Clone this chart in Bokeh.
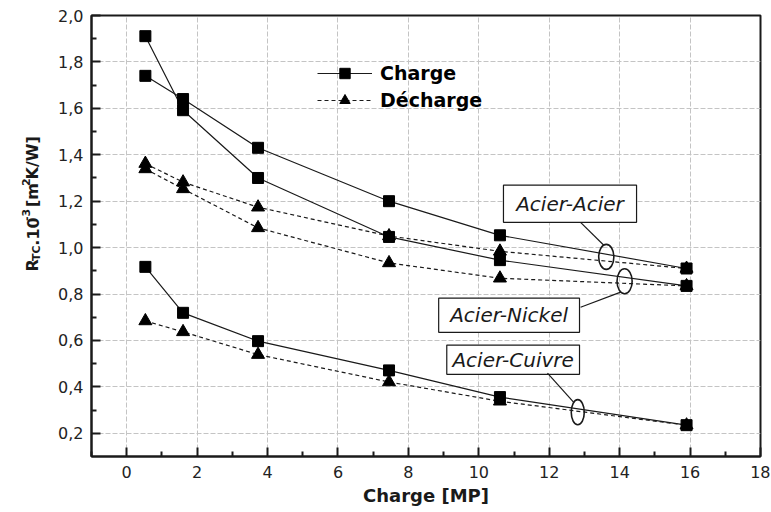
import math
from bokeh.plotting import figure
from bokeh.layouts import row
from bokeh.models import (Range1d, FixedTicker, CustomJSTickFormatter, Legend, LegendItem)
from bokeh.core.properties import value
from bokeh.embed import file_html
from bokeh.resources import INLINE

# ---- data ----
charge_mp = [0.53, 1.6, 3.73, 7.45, 10.6, 15.9]
acier_acier_charge = [1.74, 1.64, 1.43, 1.20, 1.053, 0.91]
acier_acier_decharge = [1.362, 1.282, 1.174, 1.05, 0.984, 0.91]
acier_nickel_charge = [1.911, 1.592, 1.30, 1.046, 0.946, 0.835]
acier_nickel_decharge = [1.339, 1.253, 1.085, 0.934, 0.868, 0.835]
acier_cuivre_charge = [0.917, 0.719, 0.597, 0.471, 0.356, 0.235]
acier_cuivre_decharge = [0.684, 0.637, 0.539, 0.421, 0.338, 0.235]

x_ticks = [0, 2, 4, 6, 8, 10, 12, 14, 16, 18]
x_minor = [-1, 1, 3, 5, 7, 9, 11, 13, 15, 17]
y_ticks = [0.2, 0.4, 0.6, 0.8, 1.0, 1.2, 1.4, 1.6, 1.8, 2.0]
y_minor = [0.3, 0.5, 0.7, 0.9, 1.1, 1.3, 1.5, 1.7, 1.9]

legend_labels = ["Charge", "Décharge"]
# y-axis title pieces: (text, font px, baseline shift px, gap before px)
ylabel_pieces = [("R", 16, 0, 0), ("TC", 11, 4, 0), (".10", 16, 0, 2), ("-3", 11, -7, 0),
                 ("[m", 16, 0, 4), ("2", 11, -7, 0), ("K/W]", 16, 0, 0)]
# annotation boxes: (text, x_left, x_right, y_bottom, y_top)
boxes = [
    ("Acier-Acier", 10.70, 14.48, 1.109, 1.269),
    ("Acier-Nickel", 8.86, 12.86, 0.635, 0.782),
    ("Acier-Cuivre", 9.09, 12.86, 0.454, 0.580),
]
# leader lines ((x0, y0), (x1, y1)) and ellipses (x, y, w, h)
leaders = [((12.89, 1.109), (13.55, 1.010)),
           ((14.03, 0.808), (12.89, 0.743)),
           ((11.95, 0.459), (12.69, 0.334))]
ellipses = [(13.62, 0.960, 0.43, 0.108),
            (14.14, 0.855, 0.43, 0.108),
            (12.81, 0.291, 0.37, 0.108)]

FONT = "DejaVu Sans"
INK = "#1a1a1a"
X0, X1, Y0, Y1 = -1, 18, 0.1, 2.0
FW, FH = 669, 441
H = 508
LW = 54  # width of the side panel that carries the y title

# ---- side panel carrying the composed y-axis title ----
side = figure(width=LW, height=H, output_backend="svg", toolbar_location=None,
              x_range=Range1d(0, LW), y_range=Range1d(0, H),
              x_axis_location=None, y_axis_location=None, min_border=0)
side.grid.visible = False
side.outline_line_color = None
side.background_fill_color = "white"
side.border_fill_color = "white"
widths = {"R": .770, "T": .682, "C": .734, ".": .380, "1": .696, "0": .696, "-": .415,
          "3": .696, "[": .457, "m": 1.042, "2": .696, "K": .775, "/": .365, "W": 1.103, "]": .457}
ypos = H - 295
for txt, size, dx, gap in ylabel_pieces:
    ypos += gap
    side.text(x=[32 + dx], y=[ypos], text=[txt], angle=math.pi / 2,
              text_font=value(FONT), text_font_style="bold", text_font_size=f"{size}px",
              text_align="left", text_baseline="alphabetic", text_color=INK)
    ypos += sum(widths[c] for c in txt) * size

# ---- main plot ----
p = figure(width=770 - LW, height=H, output_backend="svg", toolbar_location=None,
           x_range=Range1d(X0, X1), y_range=Range1d(Y0, Y1),
           frame_width=FW, frame_height=FH,
           min_border_left=91 - LW, min_border_right=10, min_border_top=15, min_border_bottom=52)
p.background_fill_color = "white"
p.border_fill_color = "white"
p.outline_line_color = INK
p.outline_line_width = 2

for ax in (p.xaxis[0], p.yaxis[0]):
    ax.axis_line_width = 2
    ax.axis_line_color = INK
    ax.major_tick_in = 9
    ax.major_tick_out = 0
    ax.minor_tick_in = 5
    ax.minor_tick_out = 0
    ax.major_tick_line_width = 2
    ax.minor_tick_line_width = 2
    ax.major_tick_line_color = INK
    ax.minor_tick_line_color = INK
    ax.major_label_text_font = FONT
    ax.major_label_text_font_size = "16px"
    ax.major_label_text_color = "#222222"

p.xaxis.ticker = FixedTicker(ticks=x_ticks, minor_ticks=x_minor)
p.yaxis.ticker = FixedTicker(ticks=y_ticks, minor_ticks=y_minor)
p.yaxis.formatter = CustomJSTickFormatter(code="return tick.toFixed(1).replace('.', ',');")
p.xaxis.major_label_standoff = 9
p.yaxis.major_label_standoff = 8
p.xaxis.axis_label = "Charge [MP]"
p.xaxis.axis_label_text_font = FONT
p.xaxis.axis_label_text_font_style = "bold"
p.xaxis.axis_label_text_font_size = "18px"
p.xaxis.axis_label_text_color = INK
p.xaxis.axis_label_standoff = 4

p.xgrid.ticker = FixedTicker(ticks=x_ticks)
p.ygrid.ticker = FixedTicker(ticks=y_ticks)
for g in (p.xgrid[0], p.ygrid[0]):
    g.grid_line_color = "#c4c4c4"
    g.grid_line_dash = "5 2"
    g.grid_line_width = 1

series = [
    (acier_acier_charge, "solid", "square"),
    (acier_nickel_charge, "solid", "square"),
    (acier_cuivre_charge, "solid", "square"),
    (acier_acier_decharge, "4 3", "triangle"),
    (acier_nickel_decharge, "4 3", "triangle"),
    (acier_cuivre_decharge, "4 3", "triangle"),
]
rend = []
for ys, dash, marker in series:
    l = p.line(charge_mp, ys, line_color=INK, line_width=1.2, line_dash=dash)
    rend.append(l)
markers = []
for ys, dash, marker in series:
    s = p.scatter(charge_mp, ys, marker=marker, size=11 if marker == "square" else 13,
                  fill_color="black", line_color="black")
    markers.append(s)

# annotation boxes
for (txt, x0, x1, y0, y1) in boxes:
    p.quad(left=[x0], right=[x1], bottom=[y0], top=[y1], fill_color="white",
           line_color=INK, line_width=1.2)
    p.text(x=[(x0 + x1) / 2], y=[(y0 + y1) / 2], text=[txt], text_font=value(FONT),
           text_font_style="italic", text_font_size="20px", text_align="center",
           text_baseline="middle", text_color=INK)
for (a, b) in leaders:
    p.line([a[0], b[0]], [a[1], b[1]], line_color=INK, line_width=1.2)
for (ex, ey, ew, eh) in ellipses:
    p.ellipse(x=[ex], y=[ey], width=[ew], height=[eh], fill_color=None,
              line_color=INK, line_width=1.6)

legend = Legend(items=[LegendItem(label=legend_labels[0], renderers=[rend[0], markers[0]]),
                       LegendItem(label=legend_labels[1], renderers=[rend[3], markers[3]])],
                location=(226, 343), orientation="vertical")
legend.border_line_color = None
legend.background_fill_alpha = 0
legend.padding = 0
legend.margin = 0
legend.spacing = 1
legend.glyph_width = 55
legend.glyph_height = 26
legend.label_height = 26
legend.label_standoff = 8
legend.label_text_font = FONT
legend.label_text_font_style = "bold"
legend.label_text_font_size = "19px"
legend.label_text_color = "black"
p.add_layout(legend, "center")

layout = row(side, p, spacing=0)
open("out.html", "w").write(file_html(layout, INLINE))
